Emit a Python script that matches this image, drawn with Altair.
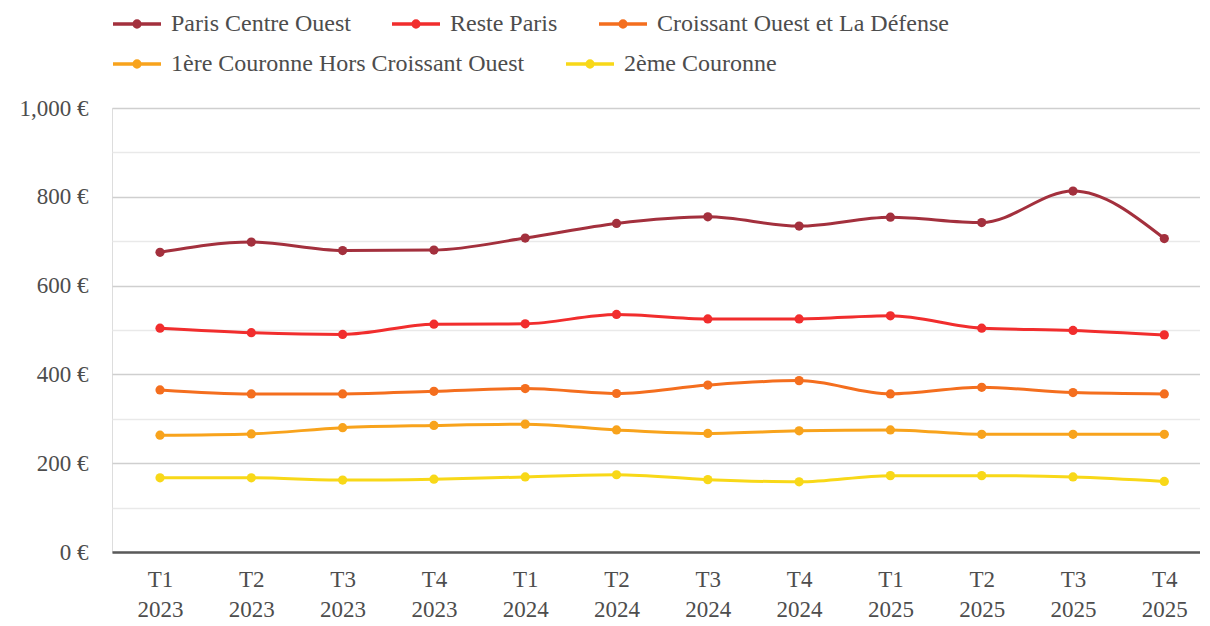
import json
import altair as alt
import pandas as pd

quarters = ["T1", "T2", "T3", "T4", "T1", "T2", "T3", "T4", "T1", "T2", "T3", "T4"]
years = ["2023", "2023", "2023", "2023", "2024", "2024", "2024", "2024", "2025", "2025", "2025", "2025"]

series = ["Paris Centre Ouest", "Reste Paris", "Croissant Ouest et La Défense",
          "1ère Couronne Hors Croissant Ouest", "2ème Couronne"]
colors = ["#a3303d", "#f12d2d", "#f46e1e", "#f8a31c", "#f8d818"]

paris_centre_ouest = [675, 698, 679, 680, 707, 740, 755, 734, 754, 742, 813, 706]
reste_paris = [504, 494, 490, 513, 514, 535, 525, 525, 532, 504, 499, 489]
croissant_ouest = [365, 356, 356, 362, 368, 357, 376, 386, 356, 371, 359, 356]
premiere_couronne = [263, 266, 280, 285, 288, 275, 267, 273, 275, 265, 265, 265]
deuxieme_couronne = [167, 167, 162, 164, 169, 174, 163, 158, 172, 172, 169, 159]

values = [paris_centre_ouest, reste_paris, croissant_ouest, premiere_couronne, deuxieme_couronne]

rows = []
for name, vals in zip(series, values):
    for i, v in enumerate(vals):
        rows.append({"idx": i, "serie": name, "loyer": v})
df = pd.DataFrame(rows)

FONT = "Liberation Serif"
TXT = "#4d4d4d"

label_expr = f"[{json.dumps(quarters)}[datum.value], {json.dumps(years)}[datum.value]]"
y_label_expr = "datum.value % 200 === 0 ? format(datum.value, ',') + ' €' : ''"
fill_expr = (f"{json.dumps(colors, ensure_ascii=False)}"
             f"[indexof({json.dumps(series, ensure_ascii=False)}, datum.value)]")

sym_path = "M-1,0L1,0M0.12,0A0.12,0.12,0,1,1,-0.12,0A0.12,0.12,0,1,1,0.12,0Z"


def make_legend(ly):
    return alt.Legend(
        title=None,
        orient="none",
        legendX=-1,
        legendY=ly,
        direction="horizontal",
        columnPadding=34,
        padding=0,
        symbolType=sym_path,
        symbolSize=2304,
        symbolStrokeWidth=3.5,
        symbolFillColor={"expr": fill_expr},
        symbolOpacity=1,
        labelFont=FONT,
        labelFontSize=24,
        labelColor=TXT,
        labelOffset=8,
        labelLimit=0,
    )


x_enc = alt.X(
    "idx:Q",
    scale=alt.Scale(domain=[-0.526, 11.391], nice=False, zero=False),
    axis=alt.Axis(
        title=None,
        values=list(range(12)),
        labelExpr=label_expr,
        grid=False,
        ticks=False,
        domain=True,
        domainColor="#5a5a5a",
        domainWidth=2.5,
        labelFont=FONT,
        labelFontSize=23,
        labelColor=TXT,
        labelPadding=16,
        labelLineHeight=30,
        labelFlush=False,
        labelOverlap=False,
    ),
)

y_enc = alt.Y(
    "loyer:Q",
    scale=alt.Scale(domain=[0, 1000], nice=False),
    axis=alt.Axis(
        title=None,
        values=list(range(0, 1001, 100)),
        labelExpr=y_label_expr,
        grid=True,
        gridColor={"condition": {"test": "datum.value % 200 === 0", "value": "#cfcfcf"},
                   "value": "#e9e9e9"},
        gridWidth=1.5,
        ticks=False,
        domain=False,
        labelFont=FONT,
        labelFontSize=23,
        labelColor=TXT,
        labelPadding=24,
        labelOverlap=False,
    ),
)


def make_group(names, cols, legend_y):
    data = df[df["serie"].isin(names)]
    scale = alt.Scale(domain=names, range=cols)
    line = alt.Chart(data).mark_line(interpolate="monotone", strokeWidth=3).encode(
        x=x_enc,
        y=y_enc,
        color=alt.Color("serie:N", scale=scale, legend=make_legend(legend_y), sort=names),
    )
    pts = alt.Chart(data).mark_circle(size=85, opacity=1).encode(
        x="idx:Q",
        y="loyer:Q",
        color=alt.Color("serie:N", scale=scale, legend=None, sort=names),
    )
    return alt.layer(line, pts)


group_top = make_group(series[:3], colors[:3], -110)
group_bottom = make_group(series[3:], colors[3:], -70)

chart = (
    alt.layer(group_top, group_bottom)
    .resolve_scale(color="independent")
    .properties(
        width=1088,
        height=444,
        autosize=alt.AutoSizeParams(type="none"),
        padding={"left": 104, "top": 100, "right": 0, "bottom": 74},
    )
    .configure_view(stroke=None)
    .configure(background="white")
)

chart.save("out.html", embed_options={"renderer": "svg", "actions": False})
